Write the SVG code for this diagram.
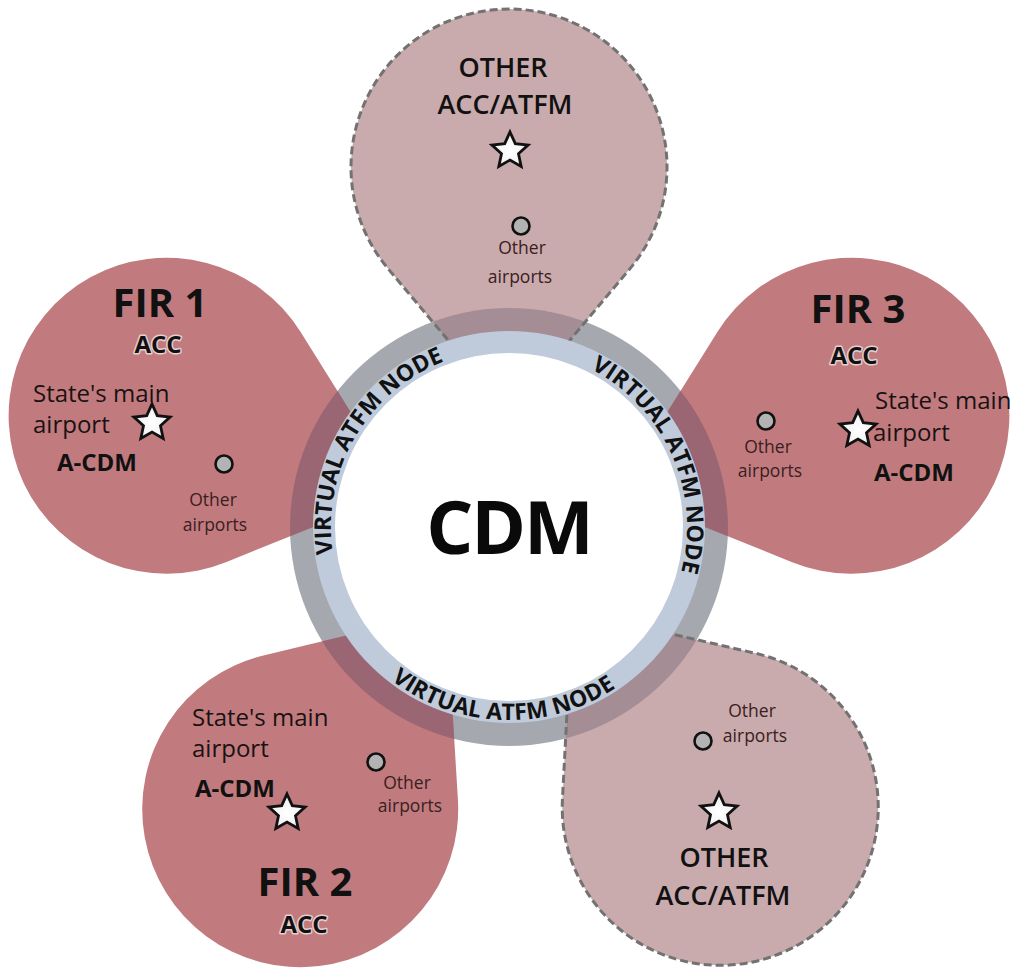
<svg xmlns="http://www.w3.org/2000/svg" xmlns:xlink="http://www.w3.org/1999/xlink" width="1012" height="971" viewBox="0 0 1012 971">
<style>
.fir{fill:#c17b7f}
.oth{fill:#c9abad}
.firOv{fill:#9a6673}
.othOv{fill:#a58d96}
.dash{fill:none;stroke:#727272;stroke-width:3;stroke-dasharray:8 4}
.t{font-family:"Open Sans","Liberation Sans",sans-serif;fill:#1a1212}
.b{font-weight:700;fill:#111}
.sb{font-weight:600;fill:#111}
.big{font-size:40px}
.acc{font-size:24px;paint-order:stroke;stroke:#f6eaea;stroke-width:3;stroke-opacity:0.75;stroke-linejoin:round}
.lab{font-size:24px}
.cdm{font-size:24px}
.sm{font-size:17.5px;fill:#3a2020}
.oh{font-size:27px}
.ring{font-family:"Open Sans","Liberation Sans",sans-serif;font-weight:700;font-size:23px;fill:#111}
.star{fill:url(#starFill);stroke:#111;stroke-width:2.8}
.dot{fill:#b3b3b3;stroke:#111;stroke-width:2.6}
</style>
<defs>
<path id="petalA" d="M178,-53.5 L258.4,-121 A158,158 0 1 1 258.4,121 L178,53.5 Z"/>
<path id="petalB" d="M176.6,-59.9 L249.4,-121 A158,158 0 1 1 249.4,121 L176.6,59.9 Z"/>
<clipPath id="band"><circle cx="509" cy="527" r="219"/></clipPath>
<radialGradient id="starFill" cx="0.5" cy="0.55" r="0.6">
<stop offset="0" stop-color="#ffffff"/>
<stop offset="0.6" stop-color="#f4f4f4"/>
<stop offset="1" stop-color="#cfcfcf"/>
</radialGradient>
<path id="star" d="M0,-19 L5.3,-7.3 L18.1,-5.9 L8.5,2.8 L11.2,15.4 L0,9 L-11.2,15.4 L-8.5,2.8 L-18.1,-5.9 L-5.3,-7.3 Z"/>
<path id="arcUL" d="M354.8,616 A178,178 0 0 1 509,349"/>
<path id="arcUR" d="M527.6,350 A178,178 0 0 1 653,631.6"/>
<path id="arcB" d="M338.6,617.6 A193,193 0 0 0 672.7,629.3"/>
</defs>
<rect width="1012" height="971" fill="#ffffff"/>
<g id="ring-band">
<circle cx="509" cy="527" r="219" fill="#a5a9af"/>
</g>
<g id="other-top">
<use xlink:href="#petalA" class="oth" transform="translate(509,527) rotate(-90)"/>
<g clip-path="url(#band)"><use xlink:href="#petalA" class="othOv" transform="translate(509,527) rotate(-90)"/></g>
<use xlink:href="#petalA" class="dash" transform="translate(509,527) rotate(-90)"/>
<text class="t sb oh" x="503" y="77" text-anchor="middle">OTHER</text>
<text class="t sb oh" x="505" y="114" text-anchor="middle">ACC/ATFM</text>
<use xlink:href="#star" class="star" transform="translate(510,151)"/>
<circle class="dot" cx="521" cy="226" r="8.5"/>
<text class="t sm" x="522" y="254" text-anchor="middle">Other</text>
<text class="t sm" x="520" y="283" text-anchor="middle">airports</text>
</g>
<g id="fir3">
<use xlink:href="#petalA" class="fir" transform="translate(509,527) rotate(-18)"/>
<g clip-path="url(#band)"><use xlink:href="#petalA" class="firOv" transform="translate(509,527) rotate(-18)"/></g>
<text class="t b big" x="858" y="323" text-anchor="middle">FIR 3</text>
<text class="t b acc" x="854" y="364" text-anchor="middle">ACC</text>
<text class="t lab" x="875" y="409">State's main</text>
<text class="t lab" x="873" y="441">airport</text>
<use xlink:href="#star" class="star" transform="translate(858,430)"/>
<text class="t b cdm" x="874" y="481">A-CDM</text>
<circle class="dot" cx="766" cy="421" r="8.5"/>
<text class="t sm" x="768" y="453" text-anchor="middle">Other</text>
<text class="t sm" x="770" y="477" text-anchor="middle">airports</text>
</g>
<g id="other-bottom">
<use xlink:href="#petalB" class="oth" transform="translate(509,527) rotate(53)"/>
<g clip-path="url(#band)"><use xlink:href="#petalB" class="othOv" transform="translate(509,527) rotate(53)"/></g>
<use xlink:href="#petalB" class="dash" transform="translate(509,527) rotate(53)"/>
<text class="t sm" x="752" y="717" text-anchor="middle">Other</text>
<text class="t sm" x="755" y="742" text-anchor="middle">airports</text>
<circle class="dot" cx="703" cy="741" r="8.5"/>
<use xlink:href="#star" class="star" transform="translate(719,812)"/>
<text class="t sb oh" x="724" y="867" text-anchor="middle">OTHER</text>
<text class="t sb oh" x="723" y="905" text-anchor="middle">ACC/ATFM</text>
</g>
<g id="fir2">
<use xlink:href="#petalB" class="fir" transform="translate(509,527) rotate(126.5)"/>
<g clip-path="url(#band)"><use xlink:href="#petalB" class="firOv" transform="translate(509,527) rotate(126.5)"/></g>
<text class="t lab" x="192" y="726">State's main</text>
<text class="t lab" x="192" y="757">airport</text>
<text class="t b cdm" x="195" y="797">A-CDM</text>
<use xlink:href="#star" class="star" transform="translate(287,813)"/>
<circle class="dot" cx="376" cy="762" r="8.5"/>
<text class="t sm" x="407" y="789" text-anchor="middle">Other</text>
<text class="t sm" x="410" y="812" text-anchor="middle">airports</text>
<text class="t b big" x="305" y="896" text-anchor="middle">FIR 2</text>
<text class="t b acc" x="304" y="933" text-anchor="middle">ACC</text>
</g>
<g id="fir1">
<use xlink:href="#petalA" class="fir" transform="translate(509,527) rotate(198)"/>
<g clip-path="url(#band)"><use xlink:href="#petalA" class="firOv" transform="translate(509,527) rotate(198)"/></g>
<text class="t b big" x="160" y="317" text-anchor="middle">FIR 1</text>
<text class="t b acc" x="158" y="353" text-anchor="middle">ACC</text>
<text class="t lab" x="33" y="402">State's main</text>
<text class="t lab" x="33" y="433">airport</text>
<use xlink:href="#star" class="star" transform="translate(152,423)"/>
<text class="t b cdm" x="57" y="471">A-CDM</text>
<circle class="dot" cx="224" cy="464" r="8.5"/>
<text class="t sm" x="213" y="506" text-anchor="middle">Other</text>
<text class="t sm" x="215" y="531" text-anchor="middle">airports</text>
</g>
<g id="cdm">
<circle cx="509" cy="527" r="196" fill="#bfcbdb"/>
<circle cx="509" cy="527" r="174" fill="#ffffff"/>
<text class="ring"><textPath xlink:href="#arcUL" startOffset="50%" text-anchor="middle">VIRTUAL ATFM NODE</textPath></text>
<text class="ring"><textPath xlink:href="#arcUR" startOffset="50%" text-anchor="middle">VIRTUAL ATFM NODE</textPath></text>
<text class="ring"><textPath xlink:href="#arcB" startOffset="50%" text-anchor="middle">VIRTUAL ATFM NODE</textPath></text>
<text x="509" y="554" text-anchor="middle" font-family="Open Sans, Liberation Sans, sans-serif" font-weight="700" font-size="74" letter-spacing="-2" fill="#0a0a0a">CDM</text>
</g>
<g id="connectors"/>
</svg>
